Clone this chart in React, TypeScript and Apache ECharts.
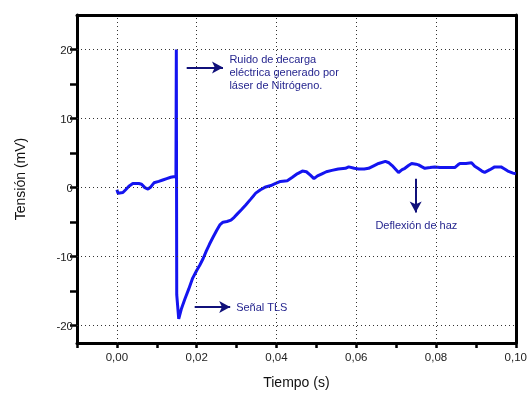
import React, { useEffect, useRef } from "react";
import * as echarts from "echarts";

const timeS: number[] = [
  0.0, 0.0003, 0.0015, 0.0022, 0.003, 0.004, 0.0055, 0.0062, 0.007, 0.0078,
  0.0085, 0.0093, 0.0105, 0.0115, 0.0125, 0.0135, 0.0145, 0.0148, 0.0149, 0.015,
  0.0155, 0.0162, 0.017, 0.018, 0.019, 0.02, 0.0208, 0.0216, 0.0224, 0.0232,
  0.024, 0.025, 0.0258, 0.0266, 0.0276, 0.0286, 0.0294, 0.0302, 0.0312, 0.0323,
  0.0335, 0.0348, 0.036, 0.0373, 0.0386, 0.0398, 0.041, 0.0427, 0.044, 0.0452,
  0.0465, 0.0475, 0.0485, 0.0494, 0.0503, 0.0514, 0.0525, 0.0539, 0.0555, 0.0573,
  0.0581, 0.0595, 0.0606, 0.062, 0.0631, 0.0645, 0.0656, 0.0673, 0.0682, 0.069,
  0.0698, 0.0706, 0.0715, 0.0722, 0.0731, 0.0739, 0.075, 0.0756, 0.0765, 0.0772,
  0.0785, 0.0797, 0.081, 0.0822, 0.0835, 0.0847, 0.0855, 0.086, 0.0875, 0.0889,
  0.0897, 0.0905, 0.0915, 0.0922, 0.0935, 0.0947, 0.0963, 0.0972, 0.098, 0.0993,
  0.1,
];

const tensionMV: number[] = [
  -0.3, -0.8, -0.7, -0.3, 0.2, 0.6, 0.6, 0.5, 0.0, -0.2,
  0.1, 0.7, 0.9, 1.1, 1.3, 1.5, 1.6, 1.5, 20.0, -15.5,
  -19.0, -17.5, -16.2, -14.7, -13.1, -12.0, -11.2, -10.3, -9.2, -8.2,
  -7.3, -6.2, -5.4, -5.0, -4.9, -4.7, -4.3, -3.8, -3.2, -2.5,
  -1.7, -0.8, -0.3, 0.1, 0.3, 0.6, 0.9, 1.0, 1.5, 2.0,
  2.4, 2.3, 1.8, 1.3, 1.7, 2.0, 2.3, 2.5, 2.7, 2.8,
  3.0, 2.8, 2.7, 2.7, 2.8, 3.2, 3.5, 3.8, 3.6, 3.2,
  2.7, 2.2, 2.6, 2.8, 3.2, 3.5, 3.4, 3.3, 3.0, 2.8,
  2.9, 3.0, 2.9, 2.9, 2.9, 2.9, 3.3, 3.5, 3.5, 3.6,
  3.1, 2.8, 2.4, 2.2, 2.6, 3.0, 3.0, 2.7, 2.4, 2.1,
  2.0,
];

const xTicks: number[] = [-0.01, 0, 0.01, 0.02, 0.03, 0.04, 0.05, 0.06, 0.07, 0.08, 0.09, 0.1];
const xLabels: number[] = [0, 0.02, 0.04, 0.06, 0.08, 0.1];
const xGrid: number[] = [0, 0.02, 0.04, 0.06, 0.08];
const yTicks: number[] = [-20, -15, -10, -5, 0, 5, 10, 15, 20];
const yLabels: number[] = [-20, -10, 0, 10, 20];
const yGrid: number[] = [-20, -10, 0, 10, 20];

const noteRuido = "Ruido de decarga\neléctrica generado por\nláser de Nitrógeno.";
const noteTLS = "Señal TLS";
const noteDeflexion = "Deflexión de haz";

const FONT = "'Liberation Sans', Arial, sans-serif";
const NAVY = "#10107a";
const TEXTNAVY = "#26268f";
const X_MIN = -0.01;
const X_MAX = 0.1;
const Y_MIN = -22.5;
const Y_MAX = 25;

export default function App() {
  const ref = useRef<HTMLDivElement>(null);
  useEffect(() => {
    if (!ref.current) return;
    const chart = echarts.init(ref.current, null, { renderer: "svg" });
    const data = timeS.map((t, i) => [t, tensionMV[i]]);
    const frameAxisLine = { show: true, onZero: false, lineStyle: { color: "#000", width: 3 } };
    chart.setOption({
      animation: false,
      grid: { left: 77, right: 12, top: 15, bottom: 48 },
      xAxis: [
        {
          type: "value",
          min: X_MIN,
          max: X_MAX,
          name: "Tiempo (s)",
          nameLocation: "middle",
          nameGap: 32,
          nameTextStyle: { fontFamily: FONT, fontSize: 14, color: "#111" },
          axisLine: frameAxisLine,
          axisTick: { show: true, length: 5, lineStyle: { color: "#000", width: 2.5 }, customValues: xTicks },
          axisLabel: {
            customValues: xLabels,
            fontFamily: FONT,
            fontSize: 11.5,
            color: "#222",
            margin: 8,
            formatter: (v: number) => v.toFixed(2).replace(".", ","),
          },
          splitLine: { show: false },
        },
        {
          type: "value",
          position: "top",
          min: X_MIN,
          max: X_MAX,
          axisLine: frameAxisLine,
          axisTick: { show: false },
          axisLabel: { show: false },
          splitLine: { show: false },
        },
      ],
      yAxis: [
        {
          type: "value",
          min: Y_MIN,
          max: Y_MAX,
          name: "Tensión (mV)",
          nameLocation: "middle",
          nameGap: 50,
          nameTextStyle: { fontFamily: FONT, fontSize: 14, color: "#111" },
          axisLine: frameAxisLine,
          axisTick: { show: true, length: 7, lineStyle: { color: "#000", width: 2.5 }, customValues: yTicks },
          axisLabel: {
            customValues: yLabels,
            fontFamily: FONT,
            fontSize: 11.5,
            color: "#222",
            margin: 4,
            formatter: (v: number) => String(v),
          },
          splitLine: { show: false },
        },
        {
          type: "value",
          position: "right",
          min: Y_MIN,
          max: Y_MAX,
          axisLine: frameAxisLine,
          axisTick: { show: false },
          axisLabel: { show: false },
          splitLine: { show: false },
        },
      ],
      series: [
        {
          type: "line",
          data,
          z: 1,
          silent: true,
          showSymbol: false,
          symbol: "none",
          lineStyle: { color: "transparent", width: 0 },
          markLine: {
            silent: true,
            symbol: ["none", "none"],
            label: { show: false },
            lineStyle: { color: "#333", width: 1, type: [1, 3], opacity: 1 },
            data: [
              ...xGrid.map((v) => ({ xAxis: v })),
              ...yGrid.map((v) => ({ yAxis: v })),
            ],
          },
        },
        {
          type: "line",
          data,
          z: 3,
          showSymbol: false,
          symbol: "none",
          lineStyle: { color: "#1414f0", width: 3 },
          markLine: {
            silent: true,
            symbol: ["none", "arrow"],
            symbolSize: [9, 11],
            label: { show: false },
            lineStyle: { color: NAVY, width: 2, type: "solid", opacity: 1 },
            data: [
              [{ coord: [0.0175, 17.4] }, { coord: [0.0266, 17.4] }],
              [{ coord: [0.0195, -17.3] }, { coord: [0.0284, -17.3] }],
              [{ coord: [0.0749, 1.3] }, { coord: [0.0749, -3.6] }],
            ],
          },
          markPoint: {
            silent: true,
            symbol: "circle",
            symbolSize: 0,
            itemStyle: { color: "transparent" },
            label: {
              show: true,
              position: "right",
              distance: 0,
              align: "left",
              verticalAlign: "middle",
              fontFamily: FONT,
              fontSize: 11,
              lineHeight: 13,
              color: TEXTNAVY,
              formatter: (p: any) => p.name,
            },
            data: [
              { name: noteRuido, coord: [0.0282, 16.8] },
              { name: noteTLS, coord: [0.0299, -17.3] },
              { name: noteDeflexion, coord: [0.0648, -5.4] },
            ],
          },
        },
      ],
    });
    return () => chart.dispose();
  }, []);
  return (
    <div
      ref={ref}
      style={{ position: "fixed", left: 0, top: 0, width: 530, height: 394 }}
    />
  );
}
